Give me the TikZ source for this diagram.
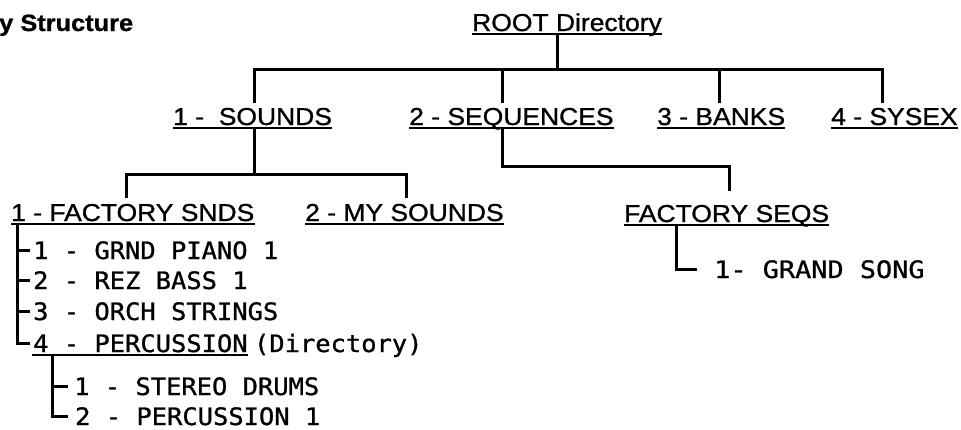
\documentclass[tikz,border=0pt]{standalone}
\usepackage{fontspec}
\newfontfamily\hv[FakeStretch=1.08,FakeBold=1]{Liberation Sans}
\newfontfamily\mono[FakeStretch=1.06,FakeBold=1]{DejaVu Sans Mono}
\newfontfamily\monob[FakeStretch=1.12,FakeBold=1]{DejaVu Sans Mono}
\begin{document}
\begin{tikzpicture}[x=1pt,y=-1pt,
  lab/.style={inner sep=0pt, anchor=base west, font=\hv\fontsize{24.5}{24.5}\selectfont},
  itm/.style={inner sep=0pt, anchor=base west, font=\mono\fontsize{24}{24}\selectfont},
  conn/.style={line width=3pt},
  ul/.style={line width=2pt}]
\useasboundingbox (0,0) rectangle (961,429);
% top labels
\node[lab, font=\hv\bfseries\fontsize{23.5}{23.5}\selectfont] (title) at (-1,31) {y Structure};
\node[lab] (root) at (472,31) {ROOT Directory};
\node[lab] (snd) at (173,125) {1 -~ SOUNDS};
\node[lab] (seq) at (409,125) {2 - SEQUENCES};
\node[lab] (bnk) at (657,125) {3 - BANKS};
\node[lab] (sys) at (831,125) {4 - SYSEX};
\node[lab] (fsnd) at (11,221) {1 - FACTORY SNDS};
\node[lab] (msnd) at (305,221) {2 - MY SOUNDS};
\node[lab] (fseq) at (624,222) {FACTORY SEQS};
\foreach \n in {root,snd,seq,bnk,sys,fsnd,msnd,fseq}
  \draw[ul] ([yshift=-3pt]\n.base west) -- ([yshift=-3pt]\n.base east);
% items
\node[itm] (i1) at (33,259) {1 - GRND PIANO 1};
\node[itm] (i2) at (33,289) {2 - REZ BASS 1};
\node[itm] (i3) at (33,320) {3 - ORCH STRINGS};
\node[itm] (i4) at (33,352) {4 - PERCUSSION};
\node[itm, anchor=base west] (dir) at ([xshift=6pt]i4.base east) {(Directory)};
\draw[ul] ([xshift=-1pt,yshift=-3pt]i4.base west) -- ([yshift=-3pt]i4.base east);
\node[itm] (c1) at (74,395) {1 - STEREO DRUMS};
\node[itm] (c2) at (75,425) {2 - PERCUSSION 1};
\node[itm, font=\monob\fontsize{24}{24}\selectfont] (g1) at (714,278) {1- GRAND SONG};
% level 0 -> 1
\coordinate (j0) at (557,69);
\coordinate (jS) at (254,69);
\coordinate (jQ) at (502,69);
\coordinate (jB) at (719,69);
\coordinate (jX) at (882,69);
\draw[conn, shorten <=3pt] (root.base -| j0) -- (j0);
\draw[conn, shorten <=5pt, shorten >=5pt] (jS |- snd.north) -- (jS) -- (jX) -- (jX |- sys.north);
\draw[conn, shorten >=5pt] (jQ) -- (jQ |- seq.north);
\draw[conn, shorten >=5pt] (jB) -- (jB |- bnk.north);
% level 1 -> 2
\coordinate (k1) at (254,174);
\coordinate (kF) at (126,174);
\coordinate (kM) at (406,174);
\draw[conn, shorten <=3pt] (snd.base -| k1) -- (k1);
\draw[conn, shorten <=6pt, shorten >=6pt] (kF |- fsnd.north) -- (kF) -- (kM) -- (kM |- msnd.north);
\coordinate (q1) at (502,166);
\coordinate (q2) at (729,166);
\draw[conn, shorten <=3pt, shorten >=14pt] (seq.base -| q1) -- (q1) -- (q2) -- (q2 |- fseq.north);
% factory sounds tree
\coordinate (t) at (17,240);
\draw[conn, shorten <=3pt, shorten >=3pt] (fsnd.base -| t) |- (i4.west);
\foreach \n in {i1,i2,i3}
  \draw[conn, shorten >=3pt] (t |- \n.west) -- (\n.west);
% percussion tree
\coordinate (p) at (52,370);
\draw[conn, shorten <=3pt, shorten >=7pt] (i4.base -| p) |- (c2.west);
\draw[conn, shorten >=6pt] (p |- c1.west) -- (c1.west);
% factory seqs tree
\coordinate (f) at (676,250);
\draw[conn, shorten <=3pt, shorten >=17pt] (fseq.base -| f) |- (g1.west);
\end{tikzpicture}
\end{document}
